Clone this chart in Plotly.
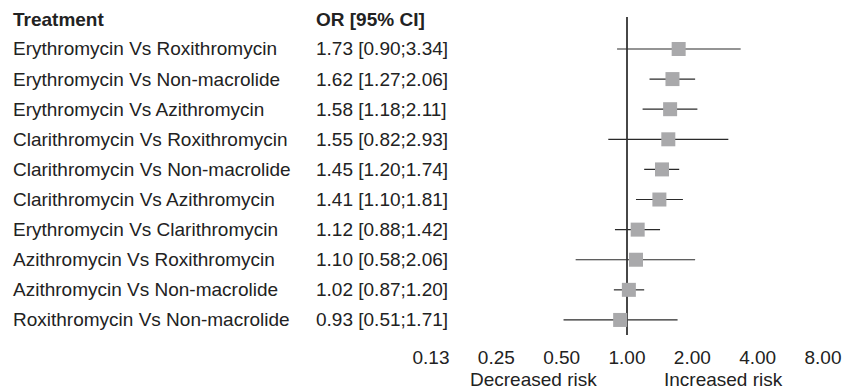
import math
import plotly.graph_objects as go

treatments = ["Erythromycin Vs Roxithromycin", "Erythromycin Vs Non-macrolide",
              "Erythromycin Vs Azithromycin", "Clarithromycin Vs Roxithromycin",
              "Clarithromycin Vs Non-macrolide", "Clarithromycin Vs Azithromycin",
              "Erythromycin Vs Clarithromycin", "Azithromycin Vs Roxithromycin",
              "Azithromycin Vs Non-macrolide", "Roxithromycin Vs Non-macrolide"]
odds_ratio = [1.73, 1.62, 1.58, 1.55, 1.45, 1.41, 1.12, 1.10, 1.02, 0.93]
ci_low = [0.90, 1.27, 1.18, 0.82, 1.20, 1.10, 0.88, 0.58, 0.87, 0.51]
ci_high = [3.34, 2.06, 2.11, 2.93, 1.74, 1.81, 1.42, 2.06, 1.20, 1.71]
tick_vals = [0.125, 0.25, 0.5, 1, 2, 4, 8]
tick_text = ["0.13", "0.25", "0.50", "1.00", "2.00", "4.00", "8.00"]

W, H = 844, 392
FONT = "Liberation Sans, Arial, sans-serif"
FS = 19
TXT = "#222222"
rows = list(range(len(treatments)))

fig = go.Figure()
for i in rows:
    fig.add_trace(go.Scatter(x=[ci_low[i], ci_high[i]], y=[i, i], mode="lines",
                             line=dict(color="#2a2a2a", width=1.2),
                             showlegend=False, hoverinfo="skip"))
fig.add_trace(go.Scatter(x=[1, 1], y=[-1.06, 9.5], mode="lines",
                         line=dict(color="#333333", width=1.8),
                         showlegend=False, hoverinfo="skip"))
fig.add_trace(go.Scatter(x=odds_ratio, y=rows, mode="markers",
                         marker=dict(symbol="square", size=14, color="#a9a9ab",
                                     line=dict(width=0)),
                         showlegend=False, hoverinfo="skip"))

TX = 11 / W
OX = 314 / W
ann = [
    dict(x=TX, y=-0.97, text="<b>Treatment</b>"),
    dict(x=OX, y=-0.97, text="<b>OR [95% CI]</b>"),
]
for i in rows:
    ann.append(dict(x=TX, y=i, text=treatments[i]))
    ann.append(dict(x=OX, y=i,
                    text=f"{odds_ratio[i]:.2f} [{ci_low[i]:.2f};{ci_high[i]:.2f}]"))
for a in ann:
    a.update(xref="paper", yref="y", showarrow=False, xanchor="left",
             yanchor="middle", font=dict(family=FONT, size=FS, color=TXT))
ann.append(dict(x=533 / W, y=-0.1343, xref="paper", yref="paper", text="Decreased risk",
                showarrow=False, xanchor="center", yanchor="middle",
                font=dict(family=FONT, size=FS, color=TXT)))
ann.append(dict(x=723 / W, y=-0.1343, xref="paper", yref="paper", text="Increased risk",
                showarrow=False, xanchor="center", yanchor="middle",
                font=dict(family=FONT, size=FS, color=TXT)))

x0px, x1px = 431, 823
fig.update_layout(
    width=W, height=H,
    margin=dict(l=0, r=0, t=0, b=57),
    paper_bgcolor="white", plot_bgcolor="white",
    xaxis=dict(type="log", domain=[x0px / W, x1px / W], automargin=False,
               range=[math.log10(0.125), math.log10(8)],
               tickvals=tick_vals, ticktext=tick_text,
               showgrid=False, zeroline=False, showline=False,
               ticks="outside", ticklen=5, tickcolor="rgba(0,0,0,0)",
               tickfont=dict(family=FONT, size=FS, color=TXT)),
    yaxis=dict(range=[9.5, -1.627], domain=[0, 1], visible=False, automargin=False,
               showgrid=False, zeroline=False),
    annotations=ann,
)
fig.write_html("out.html",
               config={"displayModeBar": False},
               post_script="document.body.style.margin='0';"
                           "document.body.style.overflow='hidden';")
